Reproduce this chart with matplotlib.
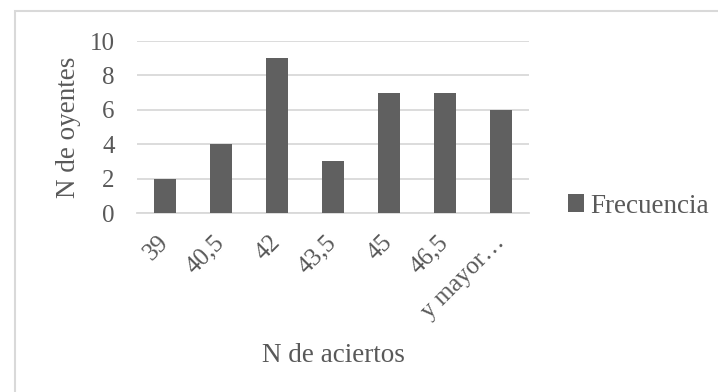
import numpy as np
import matplotlib.pyplot as plt
from matplotlib.patches import Rectangle

# Frecuencia de oyentes por numero de aciertos
clases = ['39', '40,5', '42', '43,5', '45', '46,5', 'y mayor…']
frecuencia = [2, 4, 9, 3, 7, 7, 6]

gris_texto = '#595959'
gris_barra = '#606060'
gris_linea = '#d9d9d9'

plt.rcParams['font.family'] = ['Liberation Serif', 'DejaVu Serif']

fig = plt.figure(figsize=(7.18, 3.92), dpi=100)

# marco del grafico (solo lados izquierdo y superior visibles)
fig.patches.append(Rectangle((15 / 718, -0.1), 1.2, (392 - 11) / 392 + 0.1,
                             transform=fig.transFigure, fill=False,
                             edgecolor=gris_linea, linewidth=1.5))

ax = fig.add_axes([137 / 718, 1 - 213 / 392, (529 - 137) / 718, (213 - 41) / 392])
x = np.arange(len(clases))
ax.bar(x, frecuencia, width=0.39, color=gris_barra, label='Frecuencia', zorder=3)

ax.set_xlim(-0.5, len(clases) - 0.5)
ax.set_ylim(0, 10)
ax.set_yticks(range(0, 11, 2))
ax.set_xticks(x)
ax.set_xticklabels(clases, rotation=45, ha='right', va='center',
                   rotation_mode='anchor')
ax.tick_params(axis='both', length=0, labelsize=18, colors=gris_texto)
ax.tick_params(axis='y', pad=16)
ax.tick_params(axis='x', pad=19)
ax.grid(axis='y', color=gris_linea, linewidth=1.3, zorder=0)
for s in ['top', 'right', 'left']:
    ax.spines[s].set_visible(False)
ax.spines['bottom'].set_color(gris_linea)
ax.spines['bottom'].set_linewidth(1.3)

ax.set_ylabel('N de oyentes', fontsize=19.5, color=gris_texto, labelpad=6)
ax.set_xlabel('N de aciertos', fontsize=19.5, color=gris_texto, labelpad=14)

ax.legend(loc='center left', bbox_to_anchor=(1.1, 0.04), frameon=False,
          fontsize=19.5, labelcolor=gris_texto, handlelength=0.6,
          handleheight=0.6, handletextpad=0.2, borderpad=0, borderaxespad=0)

fig.savefig('out.png', dpi=100)
